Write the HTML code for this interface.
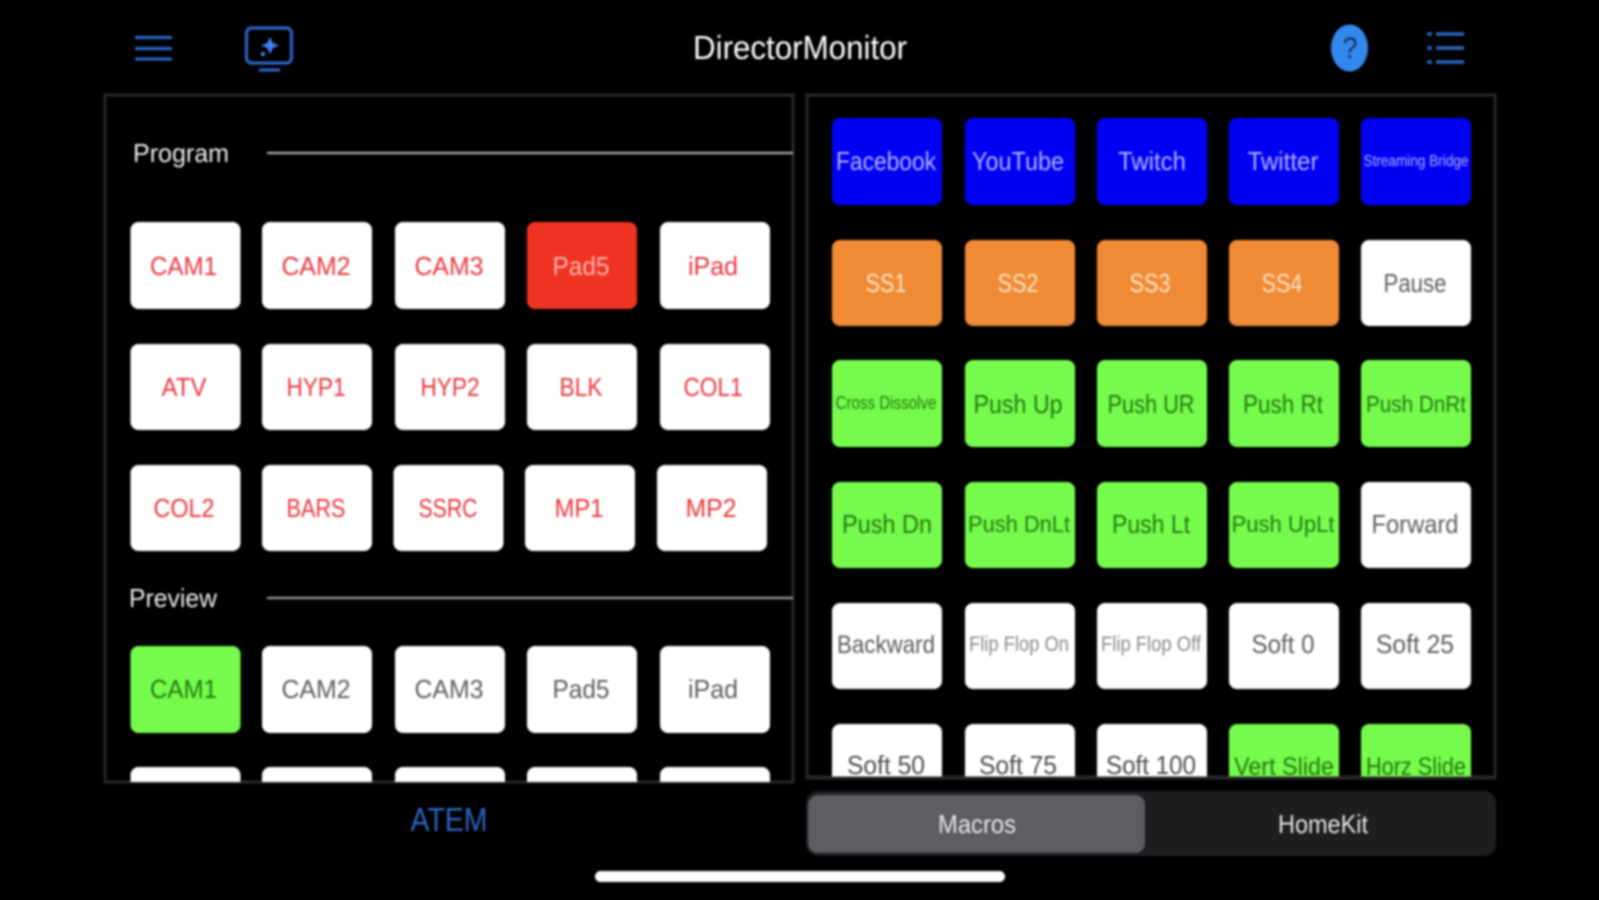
<!DOCTYPE html>
<html><head><meta charset="utf-8"><style>
html,body{margin:0;padding:0;background:#000;width:1599px;height:900px;overflow:hidden}
svg{display:block;filter:blur(1.15px)}
text{font-family:"Liberation Sans",sans-serif;font-size:26px;text-anchor:middle;transform:translateY(1px)}
.w{fill:#fff}.r{fill:#e8353d}.g{fill:#5e5e5e}.dg{fill:#23780f}.o{fill:#fde3c6}.b{fill:#b4b4ff}.rw{fill:#f9b3ac}
</style></head><body>
<svg width="1599" height="900" viewBox="0 0 1599 900" xmlns="http://www.w3.org/2000/svg">
<defs>
<clipPath id="cl"><rect x="104" y="94" width="690" height="688"/></clipPath>
<clipPath id="cr"><rect x="806" y="94" width="690" height="683"/></clipPath>
</defs>
<rect width="1599" height="900" fill="#000"/>

<!-- header -->
<g stroke="#2a63c0" stroke-width="3.2" fill="none">
<path d="M135 37.5H172M135 48.5H172M135 59H172"/>
<rect x="246.500" y="28" width="45" height="35" rx="5"/>
<path d="M259 70H280"/>
<path d="M1436 34H1464M1436 48H1464M1436 62H1464M1427 34H1432M1427 48H1432M1427 62H1432" stroke-width="3.6"/>
</g>
<path d="M270 37L273 43L279 45.500L273 48L270 54L267 48L261 45.500L267 43Z" fill="#3a80f0"/>
<circle cx="263" cy="54" r="2.200" fill="#3a80f0"/>
<ellipse cx="1349.500" cy="48" rx="18.500" ry="23.500" fill="#3388ee"/>
<text x="1350" y="57" style="font-size:30px" fill="#113463" textLength="15" lengthAdjust="spacingAndGlyphs">?</text>
<text x="800" y="58" class="w" style="font-size:33px" textLength="214" lengthAdjust="spacingAndGlyphs">DirectorMonitor</text>

<!-- left panel -->
<rect x="105" y="95" width="688" height="687" fill="none" stroke="#282828" stroke-width="3"/>
<text x="181" y="161" class="w" style="fill:#eee" textLength="96" lengthAdjust="spacingAndGlyphs">Program</text>
<path d="M267 153H793" stroke="#a0a0a0" stroke-width="2.500"/>
<text x="173" y="606" class="w" style="fill:#eee" textLength="88" lengthAdjust="spacingAndGlyphs">Preview</text>
<path d="M267 598H793" stroke="#8f8f8f" stroke-width="2.500"/>
<g fill="#fff">
<rect x="130.500" y="222" width="110" height="87" rx="8"/><rect x="262" y="222" width="110" height="87" rx="8"/><rect x="395" y="222" width="110" height="87" rx="8"/><rect x="527" y="222" width="110" height="87" rx="8" fill="#ee3323"/><rect x="660" y="222" width="110" height="87" rx="8"/>
<rect x="130.500" y="344" width="110" height="86" rx="8"/><rect x="262" y="344" width="110" height="86" rx="8"/><rect x="395" y="344" width="110" height="86" rx="8"/><rect x="527" y="344" width="110" height="86" rx="8"/><rect x="660" y="344" width="110" height="86" rx="8"/>
<rect x="130.500" y="465" width="110" height="86" rx="8"/><rect x="262" y="465" width="110" height="86" rx="8"/><rect x="393.500" y="465" width="110" height="86" rx="8"/><rect x="525" y="465" width="110" height="86" rx="8"/><rect x="657" y="465" width="110" height="86" rx="8"/>
<rect x="130.500" y="646" width="110" height="87" rx="8" fill="#76fb4d"/><rect x="262" y="646" width="110" height="87" rx="8"/><rect x="395" y="646" width="110" height="87" rx="8"/><rect x="527" y="646" width="110" height="87" rx="8"/><rect x="660" y="646" width="110" height="87" rx="8"/>
<g clip-path="url(#cl)"><rect x="130.500" y="767" width="110" height="60" rx="8"/><rect x="262" y="767" width="110" height="60" rx="8"/><rect x="395" y="767" width="110" height="60" rx="8"/><rect x="527" y="767" width="110" height="60" rx="8"/><rect x="660" y="767" width="110" height="60" rx="8"/></g>
</g>
<text x="183.500" y="274" class="r" textLength="67" lengthAdjust="spacingAndGlyphs">CAM1</text>
<text x="316" y="274" class="r" textLength="69" lengthAdjust="spacingAndGlyphs">CAM2</text>
<text x="449" y="274" class="r" textLength="69" lengthAdjust="spacingAndGlyphs">CAM3</text>
<text x="581" y="274" class="rw" textLength="57" lengthAdjust="spacingAndGlyphs">Pad5</text>
<text x="713" y="274" class="r" textLength="50" lengthAdjust="spacingAndGlyphs">iPad</text>
<text x="184" y="395" class="r" textLength="45" lengthAdjust="spacingAndGlyphs">ATV</text>
<text x="316" y="395" class="r" textLength="59" lengthAdjust="spacingAndGlyphs">HYP1</text>
<text x="450" y="395" class="r" textLength="59" lengthAdjust="spacingAndGlyphs">HYP2</text>
<text x="581" y="395" class="r" textLength="43" lengthAdjust="spacingAndGlyphs">BLK</text>
<text x="713" y="395" class="r" textLength="59" lengthAdjust="spacingAndGlyphs">COL1</text>
<text x="184" y="516" class="r" textLength="61" lengthAdjust="spacingAndGlyphs">COL2</text>
<text x="316" y="516" class="r" textLength="59" lengthAdjust="spacingAndGlyphs">BARS</text>
<text x="448" y="516" class="r" textLength="59" lengthAdjust="spacingAndGlyphs">SSRC</text>
<text x="579" y="516" class="r" textLength="49" lengthAdjust="spacingAndGlyphs">MP1</text>
<text x="711" y="516" class="r" textLength="51" lengthAdjust="spacingAndGlyphs">MP2</text>
<text x="183.500" y="697" class="dg" textLength="67" lengthAdjust="spacingAndGlyphs">CAM1</text>
<text x="316" y="697" class="g" textLength="69" lengthAdjust="spacingAndGlyphs">CAM2</text>
<text x="449" y="697" class="g" textLength="69" lengthAdjust="spacingAndGlyphs">CAM3</text>
<text x="581" y="697" class="g" textLength="57" lengthAdjust="spacingAndGlyphs">Pad5</text>
<text x="713" y="697" class="g" textLength="50" lengthAdjust="spacingAndGlyphs">iPad</text>

<!-- right panel -->
<rect x="807" y="95" width="688" height="682" fill="none" stroke="#282828" stroke-width="3"/>
<g clip-path="url(#cr)">
<g fill="#0000f5"><rect x="832" y="118" width="110" height="87" rx="8"/><rect x="965" y="118" width="110" height="87" rx="8"/><rect x="1097" y="118" width="110" height="87" rx="8"/><rect x="1229" y="118" width="110" height="87" rx="8"/><rect x="1361" y="118" width="110" height="87" rx="8"/></g>
<g fill="#f08a34"><rect x="832" y="240" width="110" height="86" rx="8"/><rect x="965" y="240" width="110" height="86" rx="8"/><rect x="1097" y="240" width="110" height="86" rx="8"/><rect x="1229" y="240" width="110" height="86" rx="8"/></g>
<rect x="1361" y="240" width="110" height="86" rx="8" fill="#fff"/>
<g fill="#76fb4d"><rect x="832" y="360" width="110" height="87" rx="8"/><rect x="965" y="360" width="110" height="87" rx="8"/><rect x="1097" y="360" width="110" height="87" rx="8"/><rect x="1229" y="360" width="110" height="87" rx="8"/><rect x="1361" y="360" width="110" height="87" rx="8"/>
<rect x="832" y="482" width="110" height="86" rx="8"/><rect x="965" y="482" width="110" height="86" rx="8"/><rect x="1097" y="482" width="110" height="86" rx="8"/><rect x="1229" y="482" width="110" height="86" rx="8"/></g>
<rect x="1361" y="482" width="110" height="86" rx="8" fill="#fff"/>
<g fill="#fff"><rect x="832" y="603" width="110" height="86" rx="8"/><rect x="965" y="603" width="110" height="86" rx="8"/><rect x="1097" y="603" width="110" height="86" rx="8"/><rect x="1229" y="603" width="110" height="86" rx="8"/><rect x="1361" y="603" width="110" height="86" rx="8"/>
<rect x="832" y="724" width="110" height="86" rx="8"/><rect x="965" y="724" width="110" height="86" rx="8"/><rect x="1097" y="724" width="110" height="86" rx="8"/></g>
<g fill="#76fb4d"><rect x="1229" y="724" width="110" height="86" rx="8"/><rect x="1361" y="724" width="110" height="86" rx="8"/></g>

<text x="886" y="169" class="b" textLength="100" lengthAdjust="spacingAndGlyphs">Facebook</text>
<text x="1018" y="169" class="b" textLength="92" lengthAdjust="spacingAndGlyphs">YouTube</text>
<text x="1152" y="169" class="b" textLength="68" lengthAdjust="spacingAndGlyphs">Twitch</text>
<text x="1283" y="169" class="b" textLength="71" lengthAdjust="spacingAndGlyphs">Twitter</text>
<text x="1416" y="165" class="b" style="font-size:16px" textLength="105" lengthAdjust="spacingAndGlyphs">Streaming Bridge</text>
<text x="886" y="291" class="o" textLength="41" lengthAdjust="spacingAndGlyphs">SS1</text>
<text x="1018" y="291" class="o" textLength="41" lengthAdjust="spacingAndGlyphs">SS2</text>
<text x="1150" y="291" class="o" textLength="41" lengthAdjust="spacingAndGlyphs">SS3</text>
<text x="1282" y="291" class="o" textLength="41" lengthAdjust="spacingAndGlyphs">SS4</text>
<text x="1415" y="291" class="g" textLength="63" lengthAdjust="spacingAndGlyphs">Pause</text>
<text x="886" y="408" class="dg" style="font-size:18px" textLength="101" lengthAdjust="spacingAndGlyphs">Cross Dissolve</text>
<text x="1018" y="412" class="dg" textLength="89" lengthAdjust="spacingAndGlyphs">Push Up</text>
<text x="1151" y="412" class="dg" textLength="87" lengthAdjust="spacingAndGlyphs">Push UR</text>
<text x="1283" y="412" class="dg" textLength="80" lengthAdjust="spacingAndGlyphs">Push Rt</text>
<text x="1416" y="411" class="dg" style="font-size:23px" textLength="100" lengthAdjust="spacingAndGlyphs">Push DnRt</text>
<text x="887" y="532" class="dg" textLength="90" lengthAdjust="spacingAndGlyphs">Push Dn</text>
<text x="1019" y="531" class="dg" style="font-size:23px" textLength="102" lengthAdjust="spacingAndGlyphs">Push DnLt</text>
<text x="1151" y="532" class="dg" textLength="78" lengthAdjust="spacingAndGlyphs">Push Lt</text>
<text x="1283" y="531" class="dg" style="font-size:23px" textLength="103" lengthAdjust="spacingAndGlyphs">Push UpLt</text>
<text x="1415" y="532" class="g" textLength="87" lengthAdjust="spacingAndGlyphs">Forward</text>
<text x="886" y="652" class="g" style="font-size:25px" textLength="98" lengthAdjust="spacingAndGlyphs">Backward</text>
<text x="1019" y="650" class="g" style="font-size:21px;fill:#8a8a8a" textLength="100" lengthAdjust="spacingAndGlyphs">Flip Flop On</text>
<text x="1151" y="650" class="g" style="font-size:21px;fill:#8a8a8a" textLength="100" lengthAdjust="spacingAndGlyphs">Flip Flop Off</text>
<text x="1283" y="652" class="g" textLength="63" lengthAdjust="spacingAndGlyphs">Soft 0</text>
<text x="1415" y="652" class="g" textLength="78" lengthAdjust="spacingAndGlyphs">Soft 25</text>
<text x="886" y="773" class="g" style="fill:#4e4e4e" textLength="78" lengthAdjust="spacingAndGlyphs">Soft 50</text>
<text x="1018" y="773" class="g" style="fill:#4e4e4e" textLength="78" lengthAdjust="spacingAndGlyphs">Soft 75</text>
<text x="1151" y="773" class="g" style="fill:#4e4e4e" textLength="90" lengthAdjust="spacingAndGlyphs">Soft 100</text>
<text x="1284" y="774" class="dg" style="font-size:25px" textLength="100" lengthAdjust="spacingAndGlyphs">Vert Slide</text>
<text x="1416" y="774" class="dg" style="font-size:25px" textLength="100" lengthAdjust="spacingAndGlyphs">Horz Slide</text>
</g>
<path d="M806 778H1496" stroke="#282828" stroke-width="3"/>

<!-- bottom -->
<text x="449" y="830" style="font-size:33px" fill="#2a66c0" textLength="77" lengthAdjust="spacingAndGlyphs">ATEM</text>
<rect x="806" y="791" width="690" height="65" rx="12" fill="#1e1e20"/>
<rect x="808" y="795" width="337" height="58" rx="10" fill="#5d5d62"/>
<text x="977" y="832" class="w" style="fill:#e8e8e8" textLength="78" lengthAdjust="spacingAndGlyphs">Macros</text>
<text x="1323" y="832" class="w" style="fill:#e8e8e8" textLength="90" lengthAdjust="spacingAndGlyphs">HomeKit</text>
<rect x="595" y="871" width="410" height="11" rx="5.500" fill="#fff"/>
</svg>
</body></html>
